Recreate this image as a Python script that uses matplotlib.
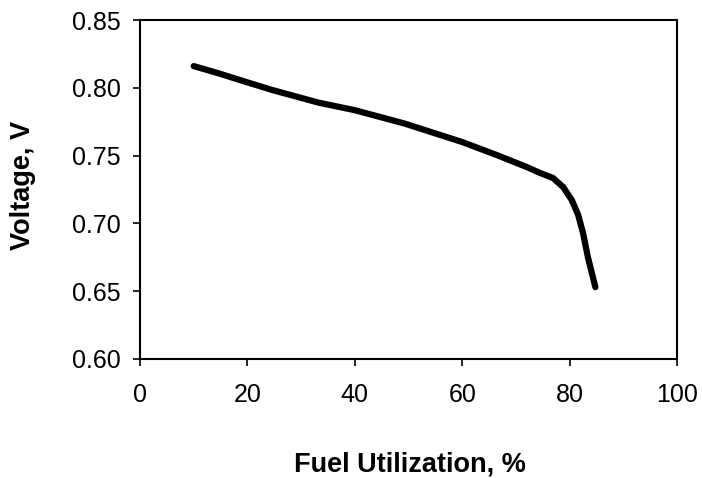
import matplotlib
matplotlib.use("Agg")
import matplotlib.pyplot as plt

fuel_utilization = [10, 14.7, 20, 24.7, 33.3, 40, 49.3, 60, 66.7, 72, 74.5, 76.9, 78.8, 80.4, 81.6, 82.5, 83.4, 84.8]
voltage = [0.816, 0.8106, 0.804, 0.7983, 0.789, 0.7835, 0.7736, 0.760, 0.750, 0.7416, 0.7372, 0.7335, 0.7268,
           0.7173, 0.7062, 0.6929, 0.6752, 0.653]
x_ticks = [0, 20, 40, 60, 80, 100]
y_ticks = [0.60, 0.65, 0.70, 0.75, 0.80, 0.85]

plt.rcParams['font.family'] = ['Liberation Sans', 'DejaVu Sans']

fig = plt.figure(figsize=(7.02, 4.78), dpi=100)
ax = fig.add_axes([140/702, 1-359/478, 537/702, 339/478])
ax.plot(fuel_utilization, voltage, color='black', linewidth=4.5, solid_capstyle='round', solid_joinstyle='round')
ax.set_xlim(0, 100)
ax.set_ylim(0.60, 0.85)
ax.set_xticks(x_ticks)
ax.set_yticks(y_ticks)
ax.set_xticklabels([str(t) for t in x_ticks])
ax.set_yticklabels([f"{t:.2f}" for t in y_ticks])
ax.tick_params(direction='out', length=5, width=1.2, labelsize=18)
ax.tick_params(axis='x', pad=12)
ax.tick_params(axis='y', pad=9)
for s in ax.spines.values():
    s.set_linewidth(1.5)
ax.set_xlabel('Fuel Utilization, %', fontsize=19.5, fontweight='bold')
ax.xaxis.label.set_verticalalignment('center')
ax.xaxis.set_label_coords((410-140)/537, (359-465)/339)
ax.set_ylabel('Voltage, V', fontsize=19.5, fontweight='bold')
ax.yaxis.label.set_verticalalignment('center')
ax.yaxis.set_label_coords((23-140)/537, (359-185)/339)
fig.savefig('out.png', dpi=100)
